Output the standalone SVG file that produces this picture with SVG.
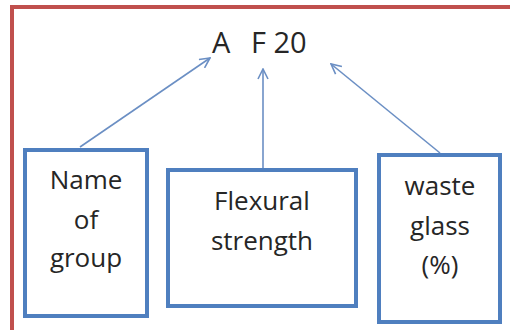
<svg xmlns="http://www.w3.org/2000/svg" width="510" height="330" viewBox="0 0 510 330">
<defs>
<style>
.box{fill:#fff;stroke:#4f7fbf;stroke-width:4}
.lbl{font-family:"Open Sans","Liberation Sans",sans-serif;font-size:26px;fill:#262626;text-anchor:middle}
.conn{stroke:#6b8fc4;stroke-width:1.6;fill:none}
</style>
<marker id="ah" viewBox="0 0 12 12" refX="11" refY="6" markerWidth="12" markerHeight="12" markerUnits="userSpaceOnUse" orient="auto">
<path d="M1,1 L11,6 L1,11" fill="none" stroke="#6b8fc4" stroke-width="1.6"/>
</marker>
</defs>
<rect width="510" height="330" fill="#fff"/>
<path d="M12,332 L12,7 L512,7" fill="none" stroke="#c0504d" stroke-width="4"/>
<g id="title">
<text class="lbl" style="font-size:29px;text-anchor:start" x="212" y="53">A</text>
<text class="lbl" style="font-size:29px;text-anchor:start" x="251" y="53">F 20</text>
</g>
<g id="connectors">
<line class="conn" x1="80" y1="147" x2="210" y2="58" marker-end="url(#ah)"/>
<line class="conn" x1="263" y1="168" x2="263" y2="69" marker-end="url(#ah)"/>
<line class="conn" x1="440" y1="153" x2="331" y2="64" marker-end="url(#ah)"/>
</g>
<g id="name-of-group">
<rect class="box" x="25" y="150" width="122" height="166"/>
<text class="lbl" x="86" y="189">Name</text>
<text class="lbl" x="86" y="229">of</text>
<text class="lbl" x="86" y="267">group</text>
</g>
<g id="flexural-strength">
<rect class="box" x="168" y="170" width="188" height="136"/>
<text class="lbl" x="262" y="210">Flexural</text>
<text class="lbl" x="262" y="250">strength</text>
</g>
<g id="waste-glass">
<rect class="box" x="379" y="155" width="121" height="167"/>
<text class="lbl" x="440" y="195">waste</text>
<text class="lbl" x="440" y="235">glass</text>
<text class="lbl" x="440" y="274">(%)</text>
</g>
</svg>
